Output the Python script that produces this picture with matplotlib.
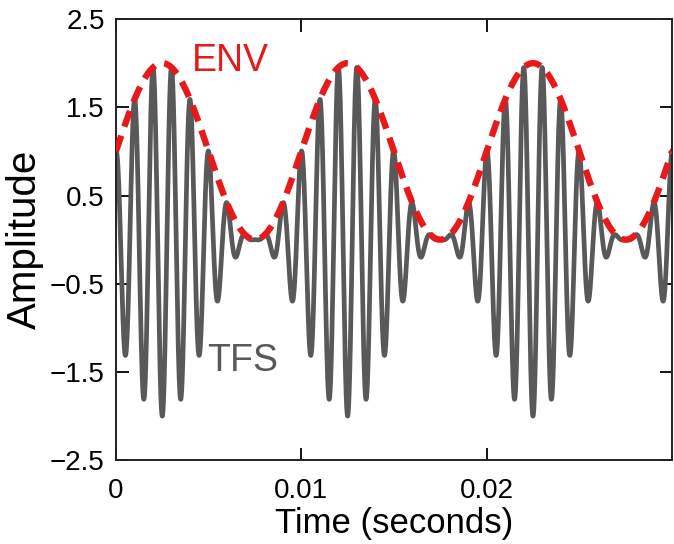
"""
Senal modulada en amplitud: envolvente (ENV) y estructura fina temporal (TFS).
"""

import matplotlib
matplotlib.use("Agg")
import matplotlib.pyplot as plt
import numpy as np

# parametros de la senal
mod_freq_hz = 100.0
carrier_freq_hz = 1000.0
env_offset = 1.0
env_depth = 1.0
duracion_s = 0.03

x_ticks = [0, 0.01, 0.02]
x_tick_labels = ["0", "0.01", "0.02"]
y_ticks = [-2.5, -1.5, -0.5, 0.5, 1.5, 2.5]
y_tick_labels = ["\u22122.5", "\u22121.5", "\u22120.5", "0.5", "1.5", "2.5"]

t = np.linspace(0, duracion_s, 6001)
env = env_offset + env_depth * np.sin(2 * np.pi * mod_freq_hz * t)
tfs = env * np.cos(2 * np.pi * carrier_freq_hz * t)

plt.rcParams["font.family"] = ["Liberation Sans", "DejaVu Sans"]

fig = plt.figure(figsize=(6.74, 5.44), dpi=100)
ax = fig.add_axes([0.172, 0.154, 0.825, 0.811])

ax.plot(t, tfs, color="#595959", linewidth=3.4, zorder=2)
ax.plot(t, env, color="#E8191B", linewidth=4.6, dashes=(2.6, 1.5), zorder=3)

ax.text(0.0041, 2.03, "ENV", color="#E8191B", fontsize=27, va="center", ha="left")
ax.text(0.0049, -1.37, "TFS", color="#595959", fontsize=27, va="center", ha="left")

ax.set_xlim(0, duracion_s)
ax.set_ylim(-2.5, 2.5)
ax.set_xticks(x_ticks)
ax.set_xticklabels(x_tick_labels)
ax.set_yticks(y_ticks)
ax.set_yticklabels(y_tick_labels)
ax.tick_params(direction="in", length=9, width=1.3, labelsize=20,
               top=True, right=True)
ax.tick_params(axis="x", pad=13)
ax.tick_params(axis="y", pad=8)
for s in ax.spines.values():
    s.set_linewidth(1.4)
    s.set_color("#222222")

ax.set_xlabel("Time (seconds)", fontsize=25, labelpad=2)
ax.set_ylabel("Amplitude", fontsize=29, labelpad=4)

fig.savefig("out.png", dpi=100, facecolor="white")
plt.close(fig)
